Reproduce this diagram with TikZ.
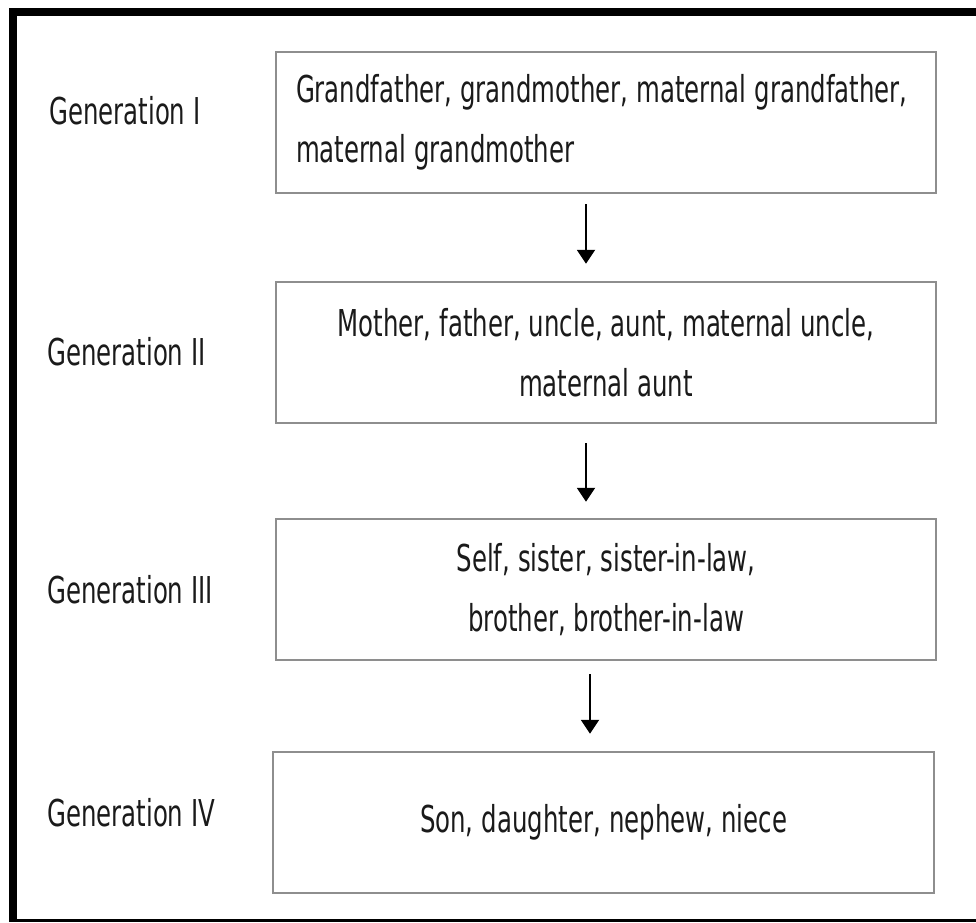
\documentclass[tikz,border=0pt]{standalone}
\usepackage{fontspec}
\setmainfont{DejaVu Sans}[FakeStretch=0.66,WordSpace=1.03]
\usetikzlibrary{arrows.meta}
\definecolor{boxgray}{HTML}{8E8E8E}
\definecolor{ink}{HTML}{1A1A1A}
\newcommand\natspaces{\spaceskip=8pt\xspaceskip=8pt\frenchspacing\relax}
\tikzset{
  genbox/.style={draw=boxgray, line width=2.5pt, fill=white, inner sep=0pt,
    text width=620pt, text=ink, font=\fontsize{37}{60}\selectfont,
    execute at begin node=\natspaces},
  genlabel/.style={anchor=west, inner sep=0pt, text=ink, font=\fontsize{37}{60}\selectfont},
  genarrow/.style={draw=black, line width=2pt, -{Triangle[width=18pt,length=14pt]}}
}
\begin{document}
\begin{tikzpicture}[x=1pt,y=-1pt]
\useasboundingbox (0,0) rectangle (976,922);
% frame
\fill[black] (9,8) rectangle (976,16);
\fill[black] (9,8) rectangle (17,922);
\fill[black] (9,919.3) rectangle (976,922);
% boxes
\node[genbox, minimum width=660pt, minimum height=141pt, align=left] (b1) at (606,122.5)
  {\mbox{Grandfather, grandmother, maternal grandfather,}\\ \mbox{maternal grandmother}};
\node[genbox, minimum width=660pt, minimum height=141pt, align=center] (b2) at (606,352.5)
  {Mother, father, uncle, aunt, maternal uncle,\\ maternal aunt};
\node[genbox, minimum width=660pt, minimum height=141pt, align=center] (b3) at (606,589.5)
  {Self, sister, sister-in-law,\\ brother, brother-in-law};
\node[genbox, minimum width=661pt, minimum height=141pt, align=center] (b4) at (603.5,822.5)
  {Son, daughter, nephew, niece};
% labels
\node[genlabel] (g1) at (49,111) {Generation I};
\node[genlabel] (g2) at (47,352) {Generation II};
\node[genlabel] (g3) at (47,590) {Generation III};
\node[genlabel] (g4) at (47,813) {Generation IV};
% arrows
\draw[genarrow, shorten <=10pt, shorten >=17pt] ([xshift=-20pt]b1.south) -- ([xshift=-20pt]b1.south |- b2.north);
\draw[genarrow, shorten <=19pt, shorten >=16pt] ([xshift=-20pt]b2.south) -- ([xshift=-20pt]b2.south |- b3.north);
\draw[genarrow, shorten <=13pt, shorten >=17pt] ([xshift=-16pt]b3.south) -- ([xshift=-16pt]b3.south |- b4.north);
\end{tikzpicture}
\end{document}
